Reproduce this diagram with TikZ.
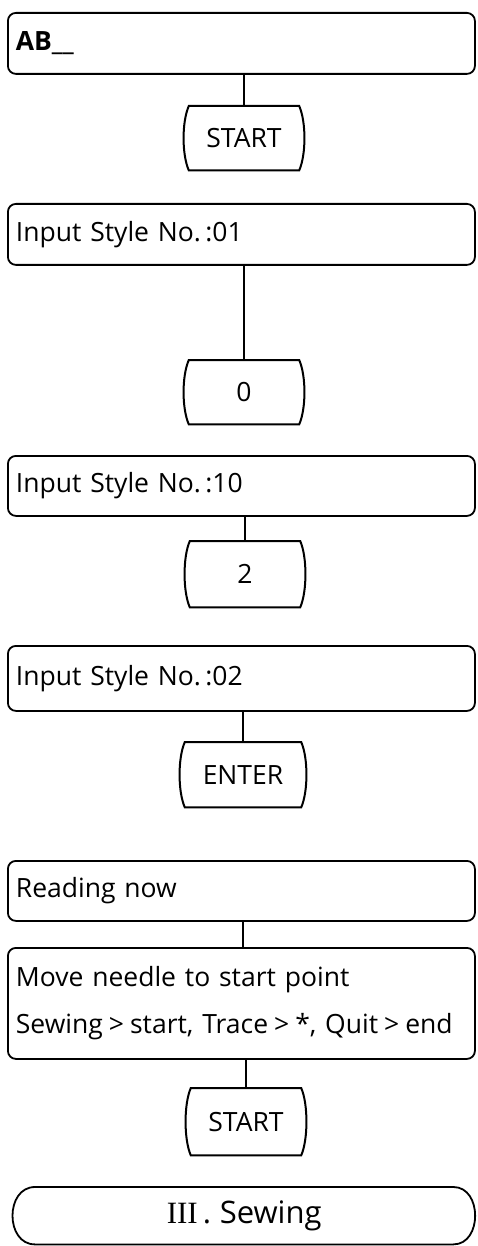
\documentclass[tikz,border=0pt]{standalone}
\usepackage{fontspec}
\setmainfont{Open Sans}
\newfontfamily\romfont{Liberation Serif}
\begin{document}
\begin{tikzpicture}[x=1pt,y=-1pt,
  txt/.style={font=\fontsize{26.5}{30}\selectfont},
  box/.style={txt, draw, line width=1.8pt, rounded corners=8pt, minimum width=467pt,
    text width=451pt, align=left, inner xsep=8pt, anchor=north west},
  keycap/.style={txt, inner sep=0pt, minimum width=110pt, minimum height=64pt, anchor=north},
  keyline/.style={line width=2pt},
  conn/.style={line width=1.8pt},
  term/.style={inner sep=0pt, minimum width=418pt, minimum height=57pt, anchor=north west,
    font=\fontsize{31}{34}\selectfont}]
\useasboundingbox (0,0) rectangle (477,1246);
% boxes
\node[box, minimum height=61pt] (b1) at (7,12) {\textbf{AB\_\_}};
\node[keycap] (k1) at (244,106) {START};
\node[box, minimum height=61pt] (b2) at (7,203) {Input Style No.\,:01};
\node[keycap] (k2) at (244,360) {0};
\node[box, minimum height=60pt] (b3) at (7,455) {Input Style No.\,:10};
\node[keycap, minimum height=66pt] (k3) at (245,541) {2};
\node[box, minimum height=65pt] (b4) at (7,645) {Input Style No.\,:02};
\node[keycap, minimum width=116pt, minimum height=65pt] (k4) at (243,742) {ENTER};
\node[box, minimum height=60pt] (b5) at (7,860) {Reading now};
\node[box, minimum height=111pt] (b6) at (7,947) {Move needle to start point\\[17pt]Sewing\hspace{6pt}>\hspace{6pt}start, Trace\hspace{6pt}>\hspace{6pt}*, Quit\hspace{6pt}>\hspace{6pt}end};
\node[keycap, minimum height=67pt] (k5) at (246,1088) {START};
\node[term] (t) at (35,1187) {{\romfont III}\,.\;Sewing};
% key outlines
\foreach \k in {k1,k2,k3,k4,k5}
  \draw[keyline] (\k.north west) -- (\k.north east)
    .. controls ([xshift=7pt,yshift=-16pt]\k.north east) and ([xshift=7pt,yshift=16pt]\k.south east) .. (\k.south east)
    -- (\k.south west)
    .. controls ([xshift=-7pt,yshift=16pt]\k.south west) and ([xshift=-7pt,yshift=-16pt]\k.north west) .. cycle;
% terminal outline
\draw[line width=1.8pt] (t.north west) -- (t.north east)
  .. controls ([xshift=29pt]t.north east) and ([xshift=29pt]t.south east) .. (t.south east)
  -- (t.south west)
  .. controls ([xshift=-30pt]t.south west) and ([xshift=-30pt]t.north west) .. cycle;
% connectors
\draw[conn] (b1.south -| k1.north) -- (k1.north);
\draw[conn] (b2.south -| k2.north) -- (k2.north);
\draw[conn] (b3.south -| k3.north) -- (k3.north);
\draw[conn] (b4.south -| k4.north) -- (k4.north);
\draw[conn] (b5.south -| k4.north) -- (b6.north -| k4.north);
\draw[conn] (b6.south -| k5.north) -- (k5.north);
\end{tikzpicture}
\end{document}
